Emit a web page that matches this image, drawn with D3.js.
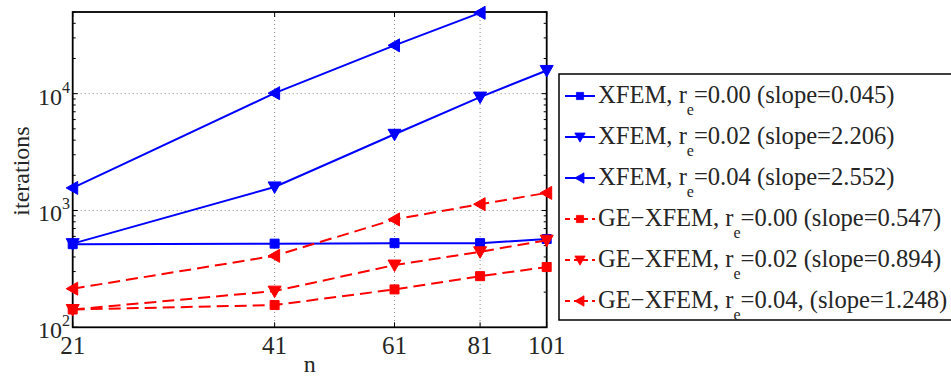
<!DOCTYPE html>
<html>
<head>
<meta charset="utf-8">
<script src="https://cdn.jsdelivr.net/npm/d3@7"></script>
<style>
  body { margin: 0; background: #fff; }
</style>
</head>
<body>
<svg id="chart" width="951" height="378" fill="#262626"></svg>
<script>
const nValues = [21, 41, 61, 81, 101];
const xfem000 = [515, 520, 525, 525, 570];
const xfem002 = [520, 1590, 4490, 9350, 15800];
const xfem004 = [1560, 10100, 25900, 49200];
const ge000 = [142, 155, 211, 274, 328];
const ge002 = [142, 204, 341, 443, 557];
const ge004 = [214, 409, 838, 1132, 1414];
const yTickLabels = [2, 3, 4];
const legendPre = ["XFEM, r", "XFEM, r", "XFEM, r", "GE\u2212XFEM, r", "GE\u2212XFEM, r", "GE\u2212XFEM, r"];
const legendPost = [
  "=0.00 (slope=0.045)",
  "=0.02 (slope=2.206)",
  "=0.04 (slope=2.552)",
  "=0.00 (slope=0.547)",
  "=0.02 (slope=0.894)",
  "=0.04, (slope=1.248)"
];

const series = [
  { values: xfem000, color: "#0000ff", dash: null, marker: "square" },
  { values: xfem002, color: "#0000ff", dash: null, marker: "down" },
  { values: xfem004, color: "#0000ff", dash: null, marker: "left" },
  { values: ge000, color: "#ff0000", dash: "12,6", marker: "square" },
  { values: ge002, color: "#ff0000", dash: "12,6", marker: "down" },
  { values: ge004, color: "#ff0000", dash: "12,6", marker: "left" }
];

const markerPath = {
  square: "M-4.5,-4.5H4.5V4.5H-4.5Z",
  down: "M-6.5,-5L6.5,-5L0,6.5Z",
  left: "M-6.5,0L5,-6.5L5,6.5Z"
};

const serif = '"Liberation Serif", "Times New Roman", "DejaVu Serif", serif';
const plotLeft = 72.7, plotRight = 546.7, plotTop = 12, plotBottom = 327.3;

const x = d3.scaleLog().domain([21, 101]).range([plotLeft, plotRight]);
const y = d3.scaleLog().domain([100, 50000]).range([plotBottom, plotTop]);

const svg = d3.select("#chart");

// grid
const grid = svg.append("g").attr("class", "grid");
grid
  .selectAll("line.vgrid")
  .data(nValues.slice(1, -1))
  .enter()
  .append("line")
  .attr("x1", (d) => x(d))
  .attr("x2", (d) => x(d))
  .attr("y1", plotTop)
  .attr("y2", plotBottom)
  .style("stroke", "#8c8c8c")
  .style("stroke-width", 1)
  .style("stroke-dasharray", "1,3");

grid
  .selectAll("line.hgrid")
  .data([1000, 10000])
  .enter()
  .append("line")
  .attr("x1", plotLeft)
  .attr("x2", plotRight)
  .attr("y1", (d) => y(d))
  .attr("y2", (d) => y(d))
  .style("stroke", "#8c8c8c")
  .style("stroke-width", 1)
  .style("stroke-dasharray", "1,3");

// ticks on all four sides, pointing inward
const yTicks = y.ticks();
const isMajor = (d) => Math.abs(Math.log10(d) - Math.round(Math.log10(d))) < 1e-9;
const ticks = svg.append("g").attr("class", "ticks").style("stroke", "#000").style("stroke-width", 1);
[plotLeft, plotRight].forEach((edge) => {
  const dir = edge === plotLeft ? 1 : -1;
  ticks
    .selectAll(null)
    .data(yTicks)
    .enter()
    .append("line")
    .attr("x1", edge)
    .attr("x2", (d) => edge + dir * (isMajor(d) ? 5 : 3))
    .attr("y1", (d) => y(d))
    .attr("y2", (d) => y(d));
});
[plotTop, plotBottom].forEach((edge) => {
  const dir = edge === plotBottom ? -1 : 1;
  ticks
    .selectAll(null)
    .data(nValues)
    .enter()
    .append("line")
    .attr("x1", (d) => x(d))
    .attr("x2", (d) => x(d))
    .attr("y1", edge)
    .attr("y2", edge + dir * 5);
});

// axes box
svg
  .append("rect")
  .attr("x", plotLeft)
  .attr("y", plotTop)
  .attr("width", plotRight - plotLeft)
  .attr("height", plotBottom - plotTop)
  .style("fill", "none")
  .style("stroke", "#000")
  .style("stroke-width", 1.8);

// tick labels
svg
  .selectAll("text.xlabel")
  .data(nValues)
  .enter()
  .append("text")
  .attr("class", "xlabel")
  .attr("x", (d) => x(d))
  .attr("y", 354)
  .attr("text-anchor", "middle")
  .style("font-family", serif)
  .style("font-size", "25px")
  .text((d) => d);

const yLabels = svg
  .selectAll("text.ylabel")
  .data(yTickLabels)
  .enter()
  .append("text")
  .attr("class", "ylabel")
  .attr("x", 70)
  .attr("y", (d) => y(Math.pow(10, d)) + 11)
  .attr("text-anchor", "end")
  .style("font-family", serif)
  .style("font-size", "24px");
yLabels.append("tspan").text("10");
yLabels
  .append("tspan")
  .attr("dy", -12)
  .style("font-size", "16px")
  .text((d) => d);

svg
  .append("text")
  .attr("x", (plotLeft + plotRight) / 2)
  .attr("y", 372)
  .attr("text-anchor", "middle")
  .style("font-family", serif)
  .style("font-size", "24px")
  .text("n");

svg
  .append("text")
  .attr("transform", "translate(29,171) rotate(-90)")
  .attr("text-anchor", "middle")
  .style("font-family", serif)
  .style("font-size", "24px")
  .text("iterations");

// series
const line = d3
  .line()
  .x((d) => x(d.n))
  .y((d) => y(d.v));

const plot = svg.append("g").attr("class", "series");
series.forEach((s) => {
  const pts = s.values.map((v, i) => ({ n: nValues[i], v: v }));
  plot
    .append("path")
    .datum(pts)
    .attr("d", line)
    .style("fill", "none")
    .style("stroke", s.color)
    .style("stroke-width", 2)
    .style("stroke-dasharray", s.dash);
  plot
    .selectAll(null)
    .data(pts)
    .enter()
    .append("path")
    .attr("d", markerPath[s.marker])
    .attr("transform", (d) => `translate(${x(d.n)},${y(d.v)})`)
    .style("fill", s.color)
    .style("stroke", s.color)
    .style("stroke-width", 1);
});

// legend
const legend = svg.append("g").attr("class", "legend");
legend
  .append("rect")
  .attr("x", 559)
  .attr("y", 74)
  .attr("width", 400)
  .attr("height", 246)
  .style("fill", "#fff")
  .style("stroke", "#000")
  .style("stroke-width", 1.5);

const rows = legend
  .selectAll("g.row")
  .data(series)
  .enter()
  .append("g")
  .attr("class", "row")
  .attr("transform", (d, i) => `translate(0,${96 + i * 41})`);

rows
  .append("line")
  .attr("x1", 565)
  .attr("x2", 595)
  .attr("y1", 0)
  .attr("y2", 0)
  .style("stroke", (d) => d.color)
  .style("stroke-width", 2)
  .style("stroke-dasharray", (d) => (d.dash ? "5,4" : null));

rows
  .append("path")
  .attr("d", (d) => markerPath[d.marker])
  .attr("transform", "translate(580,0) scale(0.8)")
  .style("fill", (d) => d.color)
  .style("stroke", (d) => d.color);

const labels = rows
  .append("text")
  .attr("x", 598)
  .attr("y", 7)
  .style("font-family", serif)
  .style("font-size", "24.6px");
labels.append("tspan").text((d, i) => legendPre[i]);
labels
  .append("tspan")
  .attr("dy", 12)
  .style("font-size", "16px")
  .text("e");
labels
  .append("tspan")
  .attr("dy", -12)
  .text((d, i) => legendPost[i]);
</script>
</body>
</html>
